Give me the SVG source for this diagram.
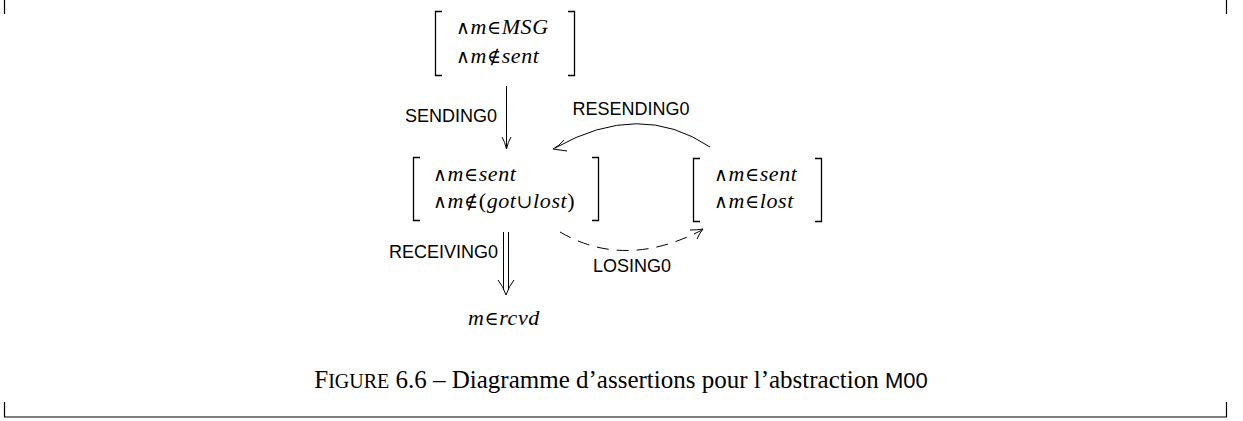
<svg xmlns="http://www.w3.org/2000/svg" width="1243" height="421" viewBox="0 0 1243 421">
<style>
.br{fill:none;stroke:#000;stroke-width:1.3}
.m{font-family:"Liberation Serif",serif;font-size:22px;fill:#000;letter-spacing:0.6px}
.i{font-style:italic}
.s{font-family:"DejaVu Serif",serif;font-size:19px;font-weight:200}
.lbl{font-family:"Liberation Sans",sans-serif;font-size:18px;fill:#000}
.cn{fill:none;stroke:#000;stroke-width:1}
.frame{fill:none;stroke:#000;stroke-width:1.2}
</style>
<rect width="1243" height="421" fill="#fff"/>
<g id="frame">
<path class="frame" d="M4.5 0V14M1226.5 0V14M4.5 402V417H1226.5V402"/>
</g>
<g id="node-top">
<path class="br" d="M442 11.5H435.5V75.5H442M568 11.5H574.5V75.5H568"/>
<text class="m" x="456" y="34"><tspan class="s">∧</tspan><tspan class="i">m</tspan><tspan class="s">∈</tspan><tspan class="i">MSG</tspan></text>
<text class="m" x="456" y="63"><tspan class="s">∧</tspan><tspan class="i">m</tspan><tspan class="s">∉</tspan><tspan class="i">sent</tspan></text>
</g>
<g id="node-mid">
<path class="br" d="M420 157.5H413.5V220.5H420M592 157.5H598.5V220.5H592"/>
<text class="m" x="433" y="181"><tspan class="s">∧</tspan><tspan class="i">m</tspan><tspan class="s">∈</tspan><tspan class="i">sent</tspan></text>
<text class="m" x="433" y="208"><tspan class="s">∧</tspan><tspan class="i">m</tspan><tspan class="s">∉</tspan>(<tspan class="i">got</tspan><tspan class="s">∪</tspan><tspan class="i">lost</tspan>)</text>
</g>
<g id="node-right">
<path class="br" d="M700 158.5H693.5V221.5H700M815 158.5H821.5V221.5H815"/>
<text class="m" x="714" y="181"><tspan class="s">∧</tspan><tspan class="i">m</tspan><tspan class="s">∈</tspan><tspan class="i">sent</tspan></text>
<text class="m" x="714" y="208"><tspan class="s">∧</tspan><tspan class="i">m</tspan><tspan class="s">∈</tspan><tspan class="i">lost</tspan></text>
</g>
<g id="node-bottom">
<text class="m" x="468" y="325"><tspan class="i">m</tspan><tspan class="s">∈</tspan><tspan class="i">rcvd</tspan></text>
</g>
<g id="connectors">
<path class="cn" d="M506.5 86V148"/>
<path class="cn" d="M502 137Q505 142 506.5 149Q508 142 511 137"/>
<text class="lbl" x="497" y="122" text-anchor="end">SENDING0</text>
<path class="cn" d="M710 147Q640 100 555 148"/>
<path class="cn" d="M564 140Q559 146 553 149Q560 150 567 151"/>
<text class="lbl" x="631" y="115" text-anchor="middle">RESENDING0</text>
<path class="cn" d="M560 232Q625 270 702 230" stroke-dasharray="12 8"/>
<path class="cn" d="M690 230Q697 230 703 229Q699 234 697 239"/>
<text class="lbl" x="632" y="272" text-anchor="middle">LOSING0</text>
<path class="cn" d="M503.5 232V290M508.5 232V290"/>
<path class="cn" d="M498 280Q503 286 506 295Q509 286 514 280"/>
<text class="lbl" x="498" y="258" text-anchor="end">RECEIVING0</text>
</g>
<g id="caption">
<text x="621" y="388" text-anchor="middle" style="font-family:'Liberation Serif',serif;font-size:25px">F<tspan font-size="20">IGURE</tspan> 6.6 – Diagramme d’assertions pour l’abstraction <tspan style="font-family:'Liberation Sans',sans-serif;font-size:22px">M00</tspan></text>
</g>
</svg>
